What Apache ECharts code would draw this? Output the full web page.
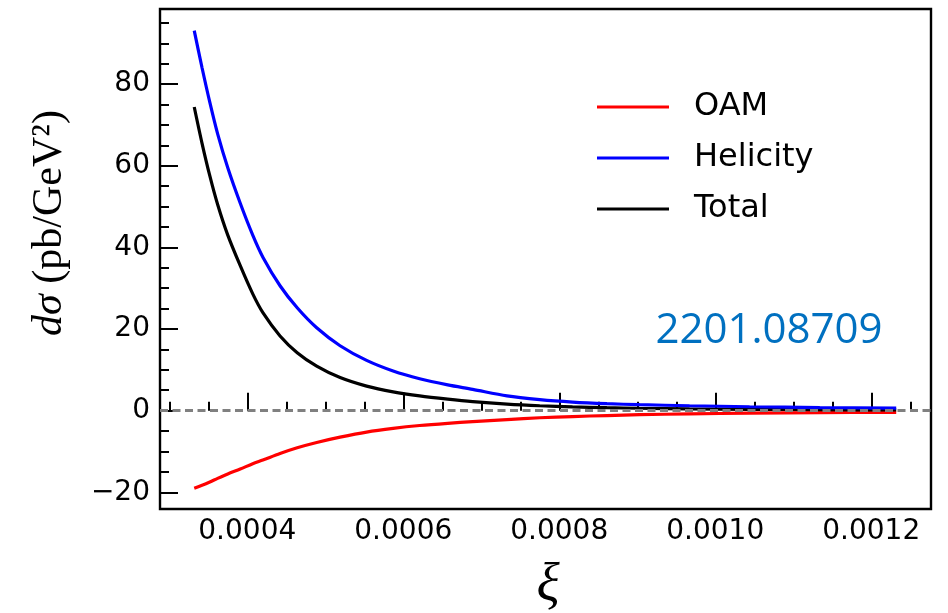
<!DOCTYPE html>
<html>
<head>
<meta charset="utf-8">
<script src="https://cdn.jsdelivr.net/npm/echarts@6/dist/echarts.min.js"></script>
<style>
  html, body { margin: 0; padding: 0; background: #ffffff; }
  #chart { width: 948px; height: 613px; }
</style>
</head>
<body>
<div id="chart"></div>
<script>
// ---- data ----
const xi = [0.000332, 0.000342, 0.000352, 0.000362, 0.000375, 0.000391, 0.000407, 0.000420,
            0.000442, 0.000464, 0.000489, 0.000519, 0.000553, 0.000587, 0.000621, 0.000657,
            0.000689, 0.000733, 0.000775, 0.000817, 0.000861, 0.000903, 0.000967, 0.001044,
            0.001134, 0.001232];
const oam = [-19.0, -18.3, -17.5, -16.6, -15.5, -14.3, -13.0, -12.1,
             -10.5, -9.1, -7.8, -6.5, -5.25, -4.35, -3.65, -3.1,
             -2.7, -2.2, -1.75, -1.45, -1.2, -1.0, -0.8, -0.62,
             -0.5, -0.42];
const helicity = [93.1, 84.0, 75.5, 67.8, 59.5, 50.8, 43.0, 37.6,
                  30.6, 25.2, 20.3, 15.9, 12.3, 9.7, 7.8, 6.3,
                  5.2, 3.6, 2.7, 2.1, 1.7, 1.45, 1.2, 0.95,
                  0.75, 0.6];
const total = [74.4, 65.5, 57.5, 50.5, 43.0, 35.5, 28.6, 24.0,
               18.3, 14.2, 10.9, 8.1, 6.0, 4.6, 3.6, 2.8,
               2.2, 1.6, 1.2, 0.92, 0.72, 0.58, 0.44, 0.33,
               0.24, 0.17];
const seriesNames = ['OAM', 'Helicity', 'Total'];
const xMajorTicks = [0.0004, 0.0006, 0.0008, 0.0010, 0.0012];
const xMinorTicks = [0.0003, 0.00035, 0.0004, 0.00045, 0.0005, 0.00055, 0.0006, 0.00065, 0.0007,
                     0.00075, 0.0008, 0.00085, 0.0009, 0.00095, 0.001, 0.00105, 0.0011, 0.00115,
                     0.0012, 0.00125];
const yMajorTicks = [-20, 0, 20, 40, 60, 80];
const yMinorTicks = [-20, -15, -10, -5, 0, 5, 10, 15, 20, 25, 30, 35, 40, 45, 50, 55, 60, 65,
                     70, 75, 80, 85, 90, 95];
const xRange = [0.0002881, 0.0012766];
const yRange = [-24.1, 98.4];
const yLabelText = ['dσ', ' (pb/GeV²)'];
const xLabelText = 'ξ';
const stampText = '2201.08709';

const pts = arr => xi.map((x, i) => [x, arr[i]]);

const chart = echarts.init(document.getElementById('chart'), null, { renderer: 'canvas' });

const tickFont = { fontFamily: 'DejaVu Sans', fontSize: 28, color: '#000' };

const lineSeries = (name, arr, color, z) => ({
  name: name, type: 'line', data: pts(arr), showSymbol: false, symbol: 'none',
  smooth: 0.3,
  lineStyle: { color: color, width: 3.2 }, itemStyle: { color: color }, z: z
});

const totalSeries = lineSeries(seriesNames[2], total, '#000000', 2);
totalSeries.markLine = {
  silent: true, symbol: ['none', 'none'], z: 10,
  label: { show: false },
  lineStyle: { color: '#808080', type: [8, 4.5], width: 3 },
  emphasis: { disabled: true },
  data: [{ yAxis: 0 }]
};

const option = {
  animation: false,
  backgroundColor: '#ffffff',
  grid: {
    left: 160, right: 17, top: 9, bottom: 104,
    show: true, borderColor: '#000', borderWidth: 2.4, backgroundColor: 'transparent'
  },
  xAxis: [
    {
      type: 'value', min: xRange[0], max: xRange[1], position: 'bottom',
      axisLine: { show: false },
      splitLine: { show: false },
      axisTick: { show: true, inside: true, length: 18, lineStyle: { color: '#000', width: 2 }, customValues: xMajorTicks },
      axisLabel: Object.assign({ margin: 9, customValues: xMajorTicks, formatter: v => v.toFixed(4) }, tickFont)
    },
    {
      type: 'value', min: xRange[0], max: xRange[1], position: 'bottom',
      axisLine: { show: false },
      splitLine: { show: false },
      axisTick: { show: true, inside: true, length: 9, lineStyle: { color: '#000', width: 2 }, customValues: xMinorTicks },
      axisLabel: { show: false }
    }
  ],
  yAxis: [
    {
      type: 'value', min: yRange[0], max: yRange[1], position: 'left',
      axisLine: { show: false },
      splitLine: { show: false },
      axisTick: { show: true, inside: true, length: 18, lineStyle: { color: '#000', width: 2 }, customValues: yMajorTicks },
      axisLabel: Object.assign({ margin: 10, customValues: yMajorTicks, formatter: v => (v < 0 ? '\u2212' + Math.abs(v) : String(v)) }, tickFont)
    },
    {
      type: 'value', min: yRange[0], max: yRange[1], position: 'left',
      axisLine: { show: false },
      splitLine: { show: false },
      axisTick: { show: true, inside: true, length: 9, lineStyle: { color: '#000', width: 2 }, customValues: yMinorTicks },
      axisLabel: { show: false }
    }
  ],
  legend: {
    data: seriesNames,
    orient: 'vertical',
    left: 597, top: 87,
    padding: 0,
    icon: 'rect',
    itemWidth: 72, itemHeight: 3,
    itemGap: 11,
    textStyle: { fontFamily: 'DejaVu Sans', fontSize: 32, color: '#000', lineHeight: 40, padding: [0, 0, 0, 20] }
  },
  series: [
    lineSeries(seriesNames[0], oam, '#ff0000', 2),
    lineSeries(seriesNames[1], helicity, '#0000ff', 3),
    totalSeries
  ],
  graphic: [
    {
      type: 'text', x: 50, y: 223, rotation: Math.PI / 2,
      style: {
        text: '{i|' + yLabelText[0] + '}{r|' + yLabelText[1] + '}',
        align: 'center', verticalAlign: 'middle',
        rich: {
          i: { fontFamily: 'Liberation Serif', fontStyle: 'italic', fontSize: 42, fill: '#000' },
          r: { fontFamily: 'Liberation Serif', fontSize: 42, fill: '#000' }
        }
      }
    },
    {
      type: 'text', x: 548, y: 587,
      style: {
        text: xLabelText, align: 'center', verticalAlign: 'middle',
        fontFamily: 'Liberation Serif', fontStyle: 'italic', fontSize: 54, fill: '#000'
      }
    },
    {
      type: 'text', x: 769, y: 331,
      style: {
        text: stampText, align: 'center', verticalAlign: 'middle',
        fontFamily: 'Open Sans', fontSize: 42, fill: '#0070C0'
      }
    }
  ]
};
chart.setOption(option);
</script>
</body>
</html>
